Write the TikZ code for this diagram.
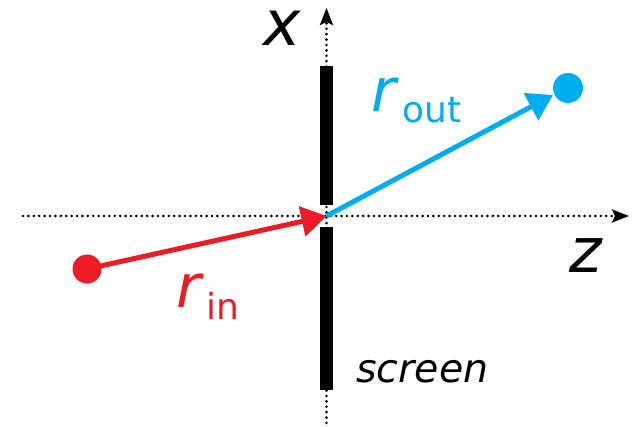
\documentclass[tikz,border=0pt]{standalone}
\usepackage{fontspec}
\setmainfont{DejaVu Sans}
\usetikzlibrary{arrows.meta}
\definecolor{myred}{HTML}{ED1C24}
\definecolor{myblue}{HTML}{00AEEF}
\tikzset{
  axis/.style={line width=2.9pt, dash pattern=on 0pt off 5.4pt, line cap=round,
    -{Stealth[length=17pt,width=13pt,inset=3pt,line cap=butt]}},
  ray/.style={line width=5pt, -{Triangle[length=25pt,width=30pt]}},
  lbl/.style={inner sep=0pt, anchor=base west},
  barpart/.style={fill=black, draw=none},
}
\begin{document}
\begin{tikzpicture}[x=1pt,y=-1pt]
\useasboundingbox (0,0) rectangle (633,427);
\coordinate (o) at (326.5,216);
\coordinate (zL) at (23,216);
\coordinate (zR) at (629,216);
\coordinate (xB) at (326.5,423);
\coordinate (xT) at (326.5,8);
\draw[axis] (zL) -- (zR);
\draw[axis] (xB) -- (xT);
\fill[barpart] (320,66) rectangle (333,205);
\fill[barpart] (320,227) rectangle (333,390);
\node[fill=myred, circle, minimum size=29pt, inner sep=0pt] (rin) at (87,269) {};
\node[fill=myblue, circle, minimum size=30pt, inner sep=0pt] (rout) at (568,88) {};
\coordinate (tipB) at (553,95);
\draw[ray, myred] (rin.center) -- (o);
\draw[ray, myblue] (o) -- (tipB);
\node[lbl] (lx) at (263,46) {\fontsize{63}{63}\selectfont\itshape x};
\node[lbl] (lz) at (569,273) {\fontsize{62}{62}\selectfont\itshape z};
\node[lbl, text=myred] (lrin) at (176,308) {\fontsize{60}{60}\selectfont\itshape r};
\node[lbl, text=myred] (lin) at (206,320) {\fontsize{36}{36}\selectfont in};
\node[lbl, text=myblue] (lrout) at (371,112) {\fontsize{60}{60}\selectfont\itshape r};
\node[lbl, text=myblue] (lout) at (402,123) {\fontsize{36}{36}\selectfont out};
\node[lbl] (lscreen) at (356,383) {\fontsize{39.5}{39.5}\selectfont\itshape screen};
\end{tikzpicture}
\end{document}
